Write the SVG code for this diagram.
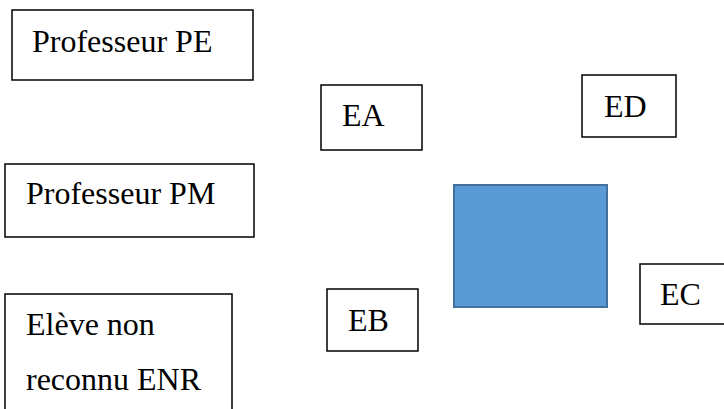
<svg xmlns="http://www.w3.org/2000/svg" width="724" height="409" viewBox="0 0 724 409">
<style>
.box{fill:#ffffff;stroke:#000000;stroke-width:1.5}
.t{font-family:"Liberation Serif","Times New Roman",serif;font-size:32px;fill:#000000}
</style>
<rect width="724" height="409" fill="#ffffff"/>
<g id="professeur-pe"><rect class="box" x="12" y="10" width="241" height="70"/><text class="t" x="32" y="52">Professeur PE</text></g>
<g id="professeur-pm"><rect class="box" x="5" y="164" width="249" height="73"/><text class="t" x="26" y="204">Professeur PM</text></g>
<g id="eleve-enr"><rect class="box" x="5" y="294" width="227" height="130"/><text class="t" x="26" y="335">Elève non</text><text class="t" x="26" y="390">reconnu ENR</text></g>
<g id="ea"><rect class="box" x="321" y="85" width="101" height="65"/><text class="t" x="342" y="126">EA</text></g>
<g id="ed"><rect class="box" x="582" y="75" width="94" height="62"/><text class="t" x="604" y="117">ED</text></g>
<g id="eb"><rect class="box" x="327" y="289" width="91" height="62"/><text class="t" x="348" y="331">EB</text></g>
<g id="ec"><rect class="box" x="640" y="264" width="100" height="60"/><text class="t" x="660" y="305">EC</text></g>
<g id="blue-square"><rect x="454" y="185" width="153" height="122" fill="#5B9BD5" stroke="#41719C" stroke-width="2"/></g>
<g id="connectors"></g>
</svg>
